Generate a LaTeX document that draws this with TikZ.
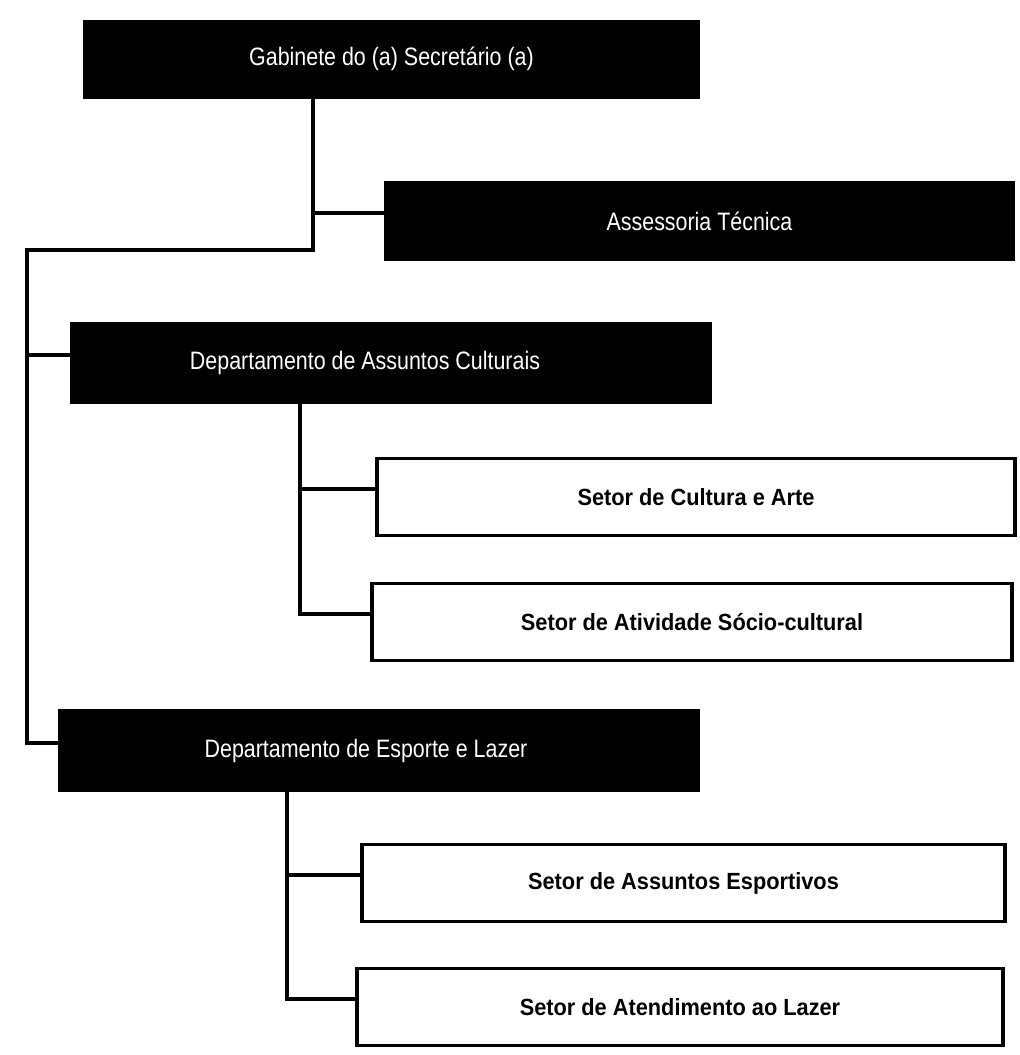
\documentclass[tikz,border=0pt]{standalone}
\usepackage{fontspec}
\setmainfont{Liberation Sans}
\newfontfamily\chefefont[FakeStretch=0.85]{Liberation Sans}
\newfontfamily\setorfont[FakeStretch=0.93]{Liberation Sans}

\tikzset{
  chefe/.style={fill=black,text=white,inner sep=0pt,
    font=\chefefont\fontsize{12.6}{15}\selectfont},
  setor/.style={draw=black,line width=1.8pt,fill=white,inner sep=0pt,
    minimum height=38.5pt,font=\setorfont\bfseries\fontsize{11.7}{14}\selectfont},
  link/.style={line width=2pt},
}

\begin{document}
\begin{tikzpicture}[x=0.5pt,y=-0.5pt]
    \useasboundingbox (0,0) rectangle (1020,1055);

    % black boxes
    \node[chefe,minimum width=308.5pt,minimum height=39.5pt] (gab) at (391.5,59.5) {\raisebox{3pt}{Gabinete do (a) Secretário (a)}};
    \node[chefe,minimum width=315.5pt,minimum height=40pt] (ass) at (699.5,221) {Assessoria Técnica};
    \node[chefe,minimum width=321pt,minimum height=41pt] (cul) at (391,363) {\hspace*{-26pt}Departamento de Assuntos Culturais};
    \node[chefe,minimum width=321pt,minimum height=41.5pt] (esp) at (379,750.5) {\hspace*{-13pt}Departamento de Esporte e Lazer};

    % white boxes
    \node[setor,minimum width=319pt] (cat) at (696,497) {Setor de Cultura e Arte};
    \node[setor,minimum width=320pt] (ati) at (692,622) {Setor de Atividade Sócio-cultural};
    \node[setor,minimum width=321.5pt] (spo) at (683.5,883) {Setor de Assuntos Esportivos};
    \node[setor,minimum width=323pt] (lzr) at (680,1007) {Setor de Atendimento ao Lazer};

    \coordinate (j1) at (313,250);
    \coordinate (j0) at (27,250);
    \coordinate (c1) at (300,0);
    \coordinate (e1) at (287,0);

    \draw[link] (gab.south -| j1) -- (j1) -- (j0) |- ([yshift=4pt]esp.west);
    \draw[link] ([yshift=4pt]ass.west) -| (j1);
    \draw[link] ([yshift=4pt]cul.west) -| (j0);

    \draw[link] (cul.south -| c1) |- ([yshift=4pt]ati.west);
    \draw[link] ([yshift=4pt]cat.west) -| (cul.south -| c1);

    \draw[link] (esp.south -| e1) |- ([yshift=4pt]lzr.west);
    \draw[link] ([yshift=4pt]spo.west) -| (esp.south -| e1);
\end{tikzpicture}
\end{document}
